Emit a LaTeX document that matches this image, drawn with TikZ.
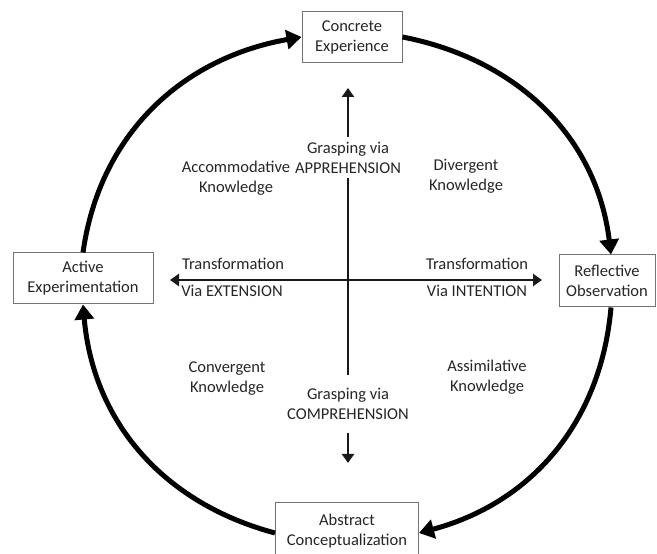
\documentclass[tikz,border=0pt]{standalone}
\usepackage{fontspec}
\setmainfont{Carlito}
\usetikzlibrary{arrows.meta}
\begin{document}
\begin{tikzpicture}[x=1pt,y=1pt,
  every node/.style={font=\fontsize{16.5}{20}\selectfont, text=black!85},
  box/.style={draw=black!55, line width=1pt, fill=white, align=center, inner sep=0pt},
  lbl/.style={align=center, inner sep=0pt},
  gap/.style={align=center, inner xsep=2pt, fill=white},
  cyc/.style={line width=5pt, -{Triangle[length=15pt,width=19pt]}},
  axis/.style={line width=2.6pt, black!90}]
\useasboundingbox (0,0) rectangle (657,554);

% stage boxes
\node[box, minimum width=100pt, minimum height=51pt] (conc) at (352,517) {Concrete\\Experience};
\node[box, minimum width=140pt, minimum height=51pt] (act) at (83,275.5) {Active\\Experimentation};
\node[box, minimum width=96pt, minimum height=52pt] (refl) at (607,273) {Reflective\\Observation};
\node[box, minimum width=143pt, minimum height=56pt] (abs) at (347,23) {Abstract\\Conceptualization};

% cycle arrows
\draw[cyc] (act.north) to[out=82,in=190] (conc.west);
\draw[cyc] (conc.east) to[out=-11,in=97] ([xshift=4pt]refl.north);
\draw[cyc] ([xshift=4pt]refl.south) to[out=265,in=15] ([yshift=-2pt]abs.east);
\draw[cyc] ([yshift=-2pt]abs.west) to[out=165,in=275] (act.south);

% axes
\coordinate (vtop) at (348,466);
\coordinate (vbot) at (348,91);
\coordinate (hl) at (170,274);
\coordinate (hr) at (542,274);
\node[gap, inner ysep=5pt] (gapp) at (348,396.5) {Grasping via\\APPREHENSION};
\node[gap, inner ysep=13pt] (gcomp) at (348,150) {Grasping via\\COMPREHENSION};

\draw[axis, {Triangle[length=9pt,width=12pt]}-{Triangle[length=9pt,width=12pt]}] (hl) -- (hr);
\draw[axis, {Triangle[length=9pt,width=12pt]}-] (vtop) -- (gapp.north);
\draw[axis] (gapp.south) -- (gcomp.north);
\draw[axis, -{Triangle[length=9pt,width=12pt]}] (gcomp.south) -- (vbot);

% quadrant labels
\node[lbl] (acc) at (236,376) {Accommodative\\Knowledge};
\node[lbl] (div) at (466,378) {Divergent\\Knowledge};
\node[lbl] (conv) at (227,175) {Convergent\\Knowledge};
\node[lbl] (assim) at (487,177) {Assimilative\\Knowledge};

% axis labels
\node[lbl, anchor=base] (tl1) at (233,284) {Transformation};
\node[lbl, anchor=base] (tl2) at (232,257) {Via EXTENSION};
\node[lbl, anchor=base] (tr1) at (477,284) {Transformation};
\node[lbl, anchor=base] (tr2) at (477,257) {Via INTENTION};
\end{tikzpicture}
\end{document}
